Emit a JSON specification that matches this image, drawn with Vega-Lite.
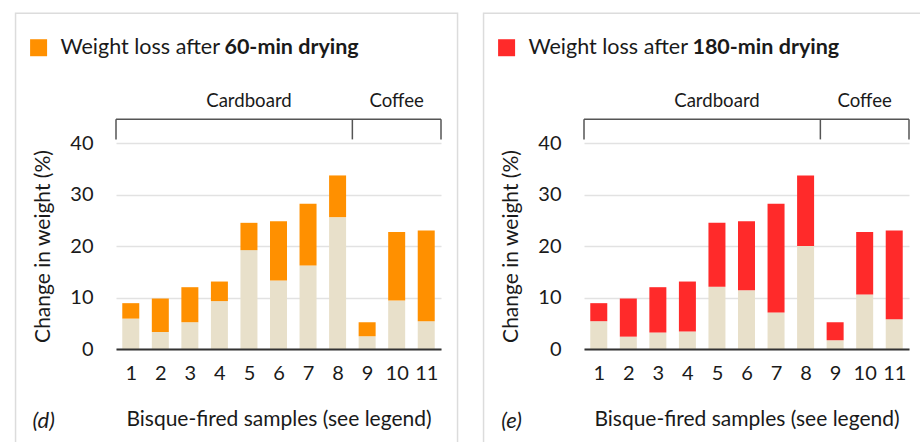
{
  "$schema": "https://vega.github.io/schema/vega-lite/v6.json",
  "padding": {"left": 14, "top": 12, "right": 0, "bottom": 0},
  "spacing": 23,
  "background": "white",
  "datasets": {
    "d": [
      {"sample": 1, "base_loss": 5.9, "total_loss": 8.9},
      {"sample": 2, "base_loss": 3.3, "total_loss": 9.8},
      {"sample": 3, "base_loss": 5.2, "total_loss": 12.0},
      {"sample": 4, "base_loss": 9.3, "total_loss": 13.1},
      {"sample": 5, "base_loss": 19.2, "total_loss": 24.5},
      {"sample": 6, "base_loss": 13.3, "total_loss": 24.8},
      {"sample": 7, "base_loss": 16.2, "total_loss": 28.2},
      {"sample": 8, "base_loss": 25.6, "total_loss": 33.7},
      {"sample": 9, "base_loss": 2.5, "total_loss": 5.2},
      {"sample": 10, "base_loss": 9.4, "total_loss": 22.7},
      {"sample": 11, "base_loss": 5.4, "total_loss": 23.0}
    ],
    "e": [
      {"sample": 1, "base_loss": 5.4, "total_loss": 8.9},
      {"sample": 2, "base_loss": 2.4, "total_loss": 9.8},
      {"sample": 3, "base_loss": 3.2, "total_loss": 12.0},
      {"sample": 4, "base_loss": 3.4, "total_loss": 13.1},
      {"sample": 5, "base_loss": 12.1, "total_loss": 24.5},
      {"sample": 6, "base_loss": 11.4, "total_loss": 24.8},
      {"sample": 7, "base_loss": 7.1, "total_loss": 28.2},
      {"sample": 8, "base_loss": 20.0, "total_loss": 33.7},
      {"sample": 9, "base_loss": 1.7, "total_loss": 5.2},
      {"sample": 10, "base_loss": 10.6, "total_loss": 22.7},
      {"sample": 11, "base_loss": 5.8, "total_loss": 23.0}
    ],
    "one": [{}]
  },
  "config": {
    "font": "Lato",
    "view": {"stroke": null},
    "text": {"font": "Lato", "color": "#1a1a1a"},
    "axis": {
      "labelFont": "Lato", "titleFont": "Lato",
      "labelFontSize": 20, "titleFontSize": 21,
      "labelColor": "#1a1a1a", "titleColor": "#1a1a1a",
      "titleFontWeight": "normal", "labelOverlap": false
    }
  },
  "hconcat": [
    {
      "width": 325, "height": 206,
      "data": {"name": "one"},
      "layer": [
        {
          "data": {"name": "d"},
          "mark": {"type": "bar", "color": "#E8E0CA", "size": 17},
          "encoding": {
            "x": {"field": "sample", "type": "quantitative",
              "scale": {"domain": [0.5, 11.5], "nice": false, "zero": false, "padding": 0},
              "axis": {"title": "Bisque-fired samples (see legend)", "values": [1,2,3,4,5,6,7,8,9,10,11], "tickCount": 11, "format": "d", "labelOverlap": false, "grid": false, "ticks": false, "tickSize": 0, "domainColor": "#333333", "domainWidth": 2, "labelPadding": 14, "titlePadding": 25, "zindex": 1}},
            "y": {"field": "base_loss", "type": "quantitative",
              "scale": {"domain": [0, 40], "nice": false, "padding": 0},
              "axis": {"title": "Change in weight (%)", "values": [0,10,20,30,40], "tickCount": 5, "grid": true, "gridColor": "#e2e2e2", "gridWidth": 1.5, "domain": false, "ticks": false, "tickSize": 0, "labelPadding": 23, "titlePadding": 16}},
            "y2": {"datum": 0}
          }
        },
        {
          "data": {"name": "d"},
          "mark": {"type": "bar", "color": "#FF9000", "size": 17},
          "encoding": {
            "x": {"field": "sample", "type": "quantitative"},
            "y": {"field": "base_loss", "type": "quantitative"},
            "y2": {"field": "total_loss"}
          }
        },
        {
          "mark": {"type": "rect", "filled": false, "color": "#dcdcdc", "strokeWidth": 1.5},
          "encoding": {
            "x": {"datum": -2.9, "type": "quantitative"},
            "x2": {"datum": 12.06},
            "y": {"datum": 65.2, "type": "quantitative"},
            "y2": {"datum": -25}
          }
        },
        {
          "mark": {"type": "rule", "color": "#555555", "strokeWidth": 1.5},
          "encoding": {"x": {"datum": 0.5, "type": "quantitative"}, "x2": {"datum": 11.5}, "y": {"datum": 44.6, "type": "quantitative"}}
        },
        {
          "mark": {"type": "rule", "color": "#555555", "strokeWidth": 1.5},
          "encoding": {"x": {"datum": 0.5, "type": "quantitative"}, "y": {"datum": 44.6, "type": "quantitative"}, "y2": {"datum": 40.7}}
        },
        {
          "mark": {"type": "rule", "color": "#555555", "strokeWidth": 1.5},
          "encoding": {"x": {"datum": 8.5, "type": "quantitative"}, "y": {"datum": 44.6, "type": "quantitative"}, "y2": {"datum": 40.7}}
        },
        {
          "mark": {"type": "rule", "color": "#555555", "strokeWidth": 1.5},
          "encoding": {"x": {"datum": 11.5, "type": "quantitative"}, "y": {"datum": 44.6, "type": "quantitative"}, "y2": {"datum": 40.7}}
        },
        {
          "mark": {"type": "text", "fontSize": 18.6, "baseline": "middle", "align": "center"},
          "encoding": {"x": {"datum": 5.0, "type": "quantitative"}, "y": {"datum": 48.1, "type": "quantitative"}, "text": {"value": "Cardboard"}}
        },
        {
          "mark": {"type": "text", "fontSize": 18.6, "baseline": "middle", "align": "center"},
          "encoding": {"x": {"datum": 10.0, "type": "quantitative"}, "y": {"datum": 48.1, "type": "quantitative"}, "text": {"value": "Coffee"}}
        },
        {
          "mark": {"type": "point", "shape": "square", "filled": true, "opacity": 1, "color": "#FF9000", "size": 289},
          "encoding": {"x": {"datum": -2.12, "type": "quantitative"}, "y": {"datum": 58.5, "type": "quantitative"}}
        },
        {
          "mark": {"type": "text", "fontSize": 21.5, "baseline": "middle", "align": "left"},
          "encoding": {"x": {"datum": -1.38, "type": "quantitative"}, "y": {"datum": 58.4, "type": "quantitative"}, "text": {"value": "Weight loss after"}}
        },
        {
          "mark": {"type": "text", "fontSize": 21.5, "fontWeight": "bold", "baseline": "middle", "align": "left"},
          "encoding": {"x": {"datum": 4.17, "type": "quantitative"}, "y": {"datum": 58.4, "type": "quantitative"}, "text": {"value": "60-min drying"}}
        },
        {
          "mark": {"type": "text", "fontSize": 22, "fontStyle": "italic", "baseline": "middle", "align": "center"},
          "encoding": {"x": {"datum": -1.95, "type": "quantitative"}, "y": {"datum": -13.9, "type": "quantitative"}, "text": {"value": "(d)"}}
        }
      ]
    },
    {
      "width": 325, "height": 206,
      "data": {"name": "one"},
      "layer": [
        {
          "data": {"name": "e"},
          "mark": {"type": "bar", "color": "#E8E0CA", "size": 17},
          "encoding": {
            "x": {"field": "sample", "type": "quantitative",
              "scale": {"domain": [0.5, 11.5], "nice": false, "zero": false, "padding": 0},
              "axis": {"title": "Bisque-fired samples (see legend)", "values": [1,2,3,4,5,6,7,8,9,10,11], "tickCount": 11, "format": "d", "labelOverlap": false, "grid": false, "ticks": false, "tickSize": 0, "domainColor": "#333333", "domainWidth": 2, "labelPadding": 14, "titlePadding": 25, "zindex": 1}},
            "y": {"field": "base_loss", "type": "quantitative",
              "scale": {"domain": [0, 40], "nice": false, "padding": 0},
              "axis": {"title": "Change in weight (%)", "values": [0,10,20,30,40], "tickCount": 5, "grid": true, "gridColor": "#e2e2e2", "gridWidth": 1.5, "domain": false, "ticks": false, "tickSize": 0, "labelPadding": 23, "titlePadding": 16}},
            "y2": {"datum": 0}
          }
        },
        {
          "data": {"name": "e"},
          "mark": {"type": "bar", "color": "#FF2A2A", "size": 17},
          "encoding": {
            "x": {"field": "sample", "type": "quantitative"},
            "y": {"field": "base_loss", "type": "quantitative"},
            "y2": {"field": "total_loss"}
          }
        },
        {
          "mark": {"type": "rect", "filled": false, "color": "#dcdcdc", "strokeWidth": 1.5},
          "encoding": {
            "x": {"datum": -2.9, "type": "quantitative"},
            "x2": {"datum": 12.06},
            "y": {"datum": 65.2, "type": "quantitative"},
            "y2": {"datum": -25}
          }
        },
        {
          "mark": {"type": "rule", "color": "#555555", "strokeWidth": 1.5},
          "encoding": {"x": {"datum": 0.5, "type": "quantitative"}, "x2": {"datum": 11.5}, "y": {"datum": 44.6, "type": "quantitative"}}
        },
        {
          "mark": {"type": "rule", "color": "#555555", "strokeWidth": 1.5},
          "encoding": {"x": {"datum": 0.5, "type": "quantitative"}, "y": {"datum": 44.6, "type": "quantitative"}, "y2": {"datum": 40.7}}
        },
        {
          "mark": {"type": "rule", "color": "#555555", "strokeWidth": 1.5},
          "encoding": {"x": {"datum": 8.5, "type": "quantitative"}, "y": {"datum": 44.6, "type": "quantitative"}, "y2": {"datum": 40.7}}
        },
        {
          "mark": {"type": "rule", "color": "#555555", "strokeWidth": 1.5},
          "encoding": {"x": {"datum": 11.5, "type": "quantitative"}, "y": {"datum": 44.6, "type": "quantitative"}, "y2": {"datum": 40.7}}
        },
        {
          "mark": {"type": "text", "fontSize": 18.6, "baseline": "middle", "align": "center"},
          "encoding": {"x": {"datum": 5.0, "type": "quantitative"}, "y": {"datum": 48.1, "type": "quantitative"}, "text": {"value": "Cardboard"}}
        },
        {
          "mark": {"type": "text", "fontSize": 18.6, "baseline": "middle", "align": "center"},
          "encoding": {"x": {"datum": 10.0, "type": "quantitative"}, "y": {"datum": 48.1, "type": "quantitative"}, "text": {"value": "Coffee"}}
        },
        {
          "mark": {"type": "point", "shape": "square", "filled": true, "opacity": 1, "color": "#FF2A2A", "size": 289},
          "encoding": {"x": {"datum": -2.12, "type": "quantitative"}, "y": {"datum": 58.5, "type": "quantitative"}}
        },
        {
          "mark": {"type": "text", "fontSize": 21.5, "baseline": "middle", "align": "left"},
          "encoding": {"x": {"datum": -1.38, "type": "quantitative"}, "y": {"datum": 58.4, "type": "quantitative"}, "text": {"value": "Weight loss after"}}
        },
        {
          "mark": {"type": "text", "fontSize": 21.5, "fontWeight": "bold", "baseline": "middle", "align": "left"},
          "encoding": {"x": {"datum": 4.17, "type": "quantitative"}, "y": {"datum": 58.4, "type": "quantitative"}, "text": {"value": "180-min drying"}}
        },
        {
          "mark": {"type": "text", "fontSize": 22, "fontStyle": "italic", "baseline": "middle", "align": "center"},
          "encoding": {"x": {"datum": -1.95, "type": "quantitative"}, "y": {"datum": -13.9, "type": "quantitative"}, "text": {"value": "(e)"}}
        }
      ]
    }
  ]
}
